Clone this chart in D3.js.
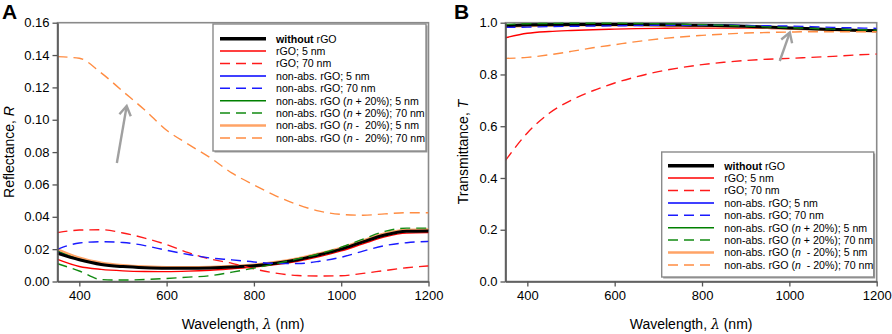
<!DOCTYPE html>
<html><head><meta charset="utf-8">
<script src="https://cdn.jsdelivr.net/npm/d3@7"></script>
<style>
body{margin:0;background:#fff;}
svg{font-family:"Liberation Sans",Arial,sans-serif;}
</style></head>
<body><svg id="c" width="892" height="334"></svg>
<script>
// ---------- DATA ----------
const wavelengths = [350,400,450,500,550,600,650,700,750,800,850,900,950,1000,1050,1100,1150,1200];
const xTicks = [400,600,800,1000,1200];
const yTicksA = [0,0.02,0.04,0.06,0.08,0.10,0.12,0.14,0.16];
const yTicksB = [0,0.2,0.4,0.6,0.8,1.0];

const seriesNames = ["without rGO","rGO; 5 nm","rGO; 70 nm","non-abs. rGO; 5 nm","non-abs. rGO; 70 nm",
  "non-abs. rGO (n + 20%); 5 nm","non-abs. rGO (n + 20%); 70 nm","non-abs. rGO (n - 20%); 5 nm","non-abs. rGO (n - 20%); 70 nm"];

// Panel A: reflectance
const R_without   = [0.0174,0.0134,0.0105,0.0092,0.0085,0.0082,0.0082,0.0084,0.0089,0.0097,0.0113,0.0135,0.0165,0.0200,0.0245,0.0287,0.0310,0.0312];
const R_rGO5      = [0.0137,0.0093,0.0075,0.0066,0.0062,0.0061,0.0064,0.0070,0.0079,0.0089,0.0104,0.0125,0.0154,0.0189,0.0233,0.0276,0.0299,0.0302];
const R_rGO70     = [0.0302,0.0318,0.0320,0.0300,0.0268,0.0228,0.0178,0.0139,0.0112,0.0078,0.0052,0.0037,0.0034,0.0036,0.0050,0.0068,0.0085,0.0096];
const R_na5       = [0.0185,0.0140,0.0110,0.0095,0.0087,0.0084,0.0084,0.0086,0.0091,0.0099,0.0115,0.0137,0.0167,0.0202,0.0247,0.0290,0.0313,0.0315];
const R_na70      = [0.0199,0.0238,0.0246,0.0241,0.0222,0.0193,0.0167,0.0145,0.0134,0.0121,0.0112,0.0111,0.0125,0.0150,0.0188,0.0222,0.0240,0.0248];
const R_nap5      = [0.0190,0.0142,0.0112,0.0096,0.0088,0.0085,0.0085,0.0087,0.0092,0.0101,0.0117,0.0140,0.0170,0.0206,0.0252,0.0296,0.0318,0.0320];
const R_nap70     = [0.0110,0.0065,0.0012,0.0009,0.0012,0.0019,0.0027,0.0036,0.0058,0.0083,0.0110,0.0140,0.0172,0.0212,0.0262,0.0310,0.0330,0.0330];
const R_nam5      = [0.0200,0.0148,0.0117,0.0101,0.0093,0.0089,0.0089,0.0091,0.0096,0.0105,0.0121,0.0144,0.0174,0.0209,0.0255,0.0298,0.0320,0.0322];
const R_nam70     = [0.1390,0.1380,0.1290,0.1175,0.1060,0.0935,0.0848,0.0765,0.0670,0.0597,0.0530,0.0475,0.0435,0.0415,0.0410,0.0418,0.0425,0.0425];

// Panel B: transmittance
const T_without   = [0.989,0.991,0.992,0.993,0.993,0.993,0.993,0.992,0.991,0.990,0.988,0.986,0.983,0.980,0.977,0.974,0.971,0.969];
const T_rGO5      = [0.942,0.959,0.966,0.970,0.973,0.975,0.977,0.978,0.979,0.979,0.979,0.979,0.978,0.977,0.975,0.973,0.971,0.969];
const T_rGO70     = [0.468,0.574,0.650,0.700,0.737,0.767,0.791,0.811,0.826,0.838,0.847,0.854,0.859,0.862,0.866,0.870,0.875,0.879];
const T_na5       = [0.991,0.993,0.994,0.995,0.995,0.995,0.995,0.994,0.993,0.992,0.990,0.988,0.985,0.982,0.979,0.976,0.973,0.971];
const T_na70      = [0.982,0.983,0.985,0.986,0.987,0.988,0.989,0.990,0.990,0.990,0.990,0.989,0.988,0.987,0.985,0.982,0.980,0.978];
const T_nap5      = [0.992,0.994,0.995,0.996,0.996,0.996,0.995,0.994,0.993,0.991,0.989,0.987,0.984,0.981,0.978,0.975,0.972,0.970];
const T_nap70     = [0.993,0.996,0.997,0.998,0.998,0.998,0.997,0.996,0.994,0.992,0.990,0.987,0.984,0.981,0.978,0.975,0.973,0.971];
const T_nam5      = [0.984,0.987,0.989,0.990,0.990,0.990,0.990,0.989,0.988,0.987,0.985,0.983,0.980,0.977,0.974,0.971,0.968,0.966];
const T_nam70     = [0.862,0.866,0.876,0.889,0.903,0.915,0.927,0.937,0.945,0.951,0.956,0.960,0.962,0.964,0.965,0.965,0.965,0.965];

// arrows (data coordinates): [x0,y0,x1,y1]
const arrowA = [486,0.0733,508.5,0.1085];
const arrowB = [978,0.852,1001,0.962];

// ---------- STYLES ----------
const styles = [
  {c:"#000000",w:3.0,d:null},
  {c:"#ff0000",w:1.4,d:null},
  {c:"#ff1a1a",w:1.4,d:"10,6"},
  {c:"#0000ff",w:1.4,d:null},
  {c:"#1a1aff",w:1.4,d:"10,6"},
  {c:"#008000",w:1.4,d:null},
  {c:"#128a12",w:1.4,d:"10,6"},
  {c:"#ffa366",w:2.2,d:null},
  {c:"#ff8c42",w:1.4,d:"10,6"}
];
const drawOrder = [1,3,5,7,0,2,4,6,8];

const svg = d3.select("#c");
const font = "Liberation Sans, Arial, sans-serif";

function panel(opt){
  const x = d3.scaleLinear().domain([350,1200]).range(opt.xr);
  const y = d3.scaleLinear().domain(opt.yd).range([281.5,22.7]);
  const g = svg.append("g");
  const clipId = "clip"+opt.id;
  svg.append("clipPath").attr("id",clipId).append("rect")
    .attr("x",opt.xr[0]).attr("y",21).attr("width",opt.xr[1]-opt.xr[0]).attr("height",281.5-21);
  // frame
  g.append("rect").attr("x",opt.xr[0]).attr("y",22.7).attr("width",opt.xr[1]-opt.xr[0]).attr("height",281.5-22.7)
    .attr("fill","none").attr("stroke","#8a8a8a").attr("stroke-width",1.6);
  // lines
  const line = d3.line().x((d,i)=>x(wavelengths[i])).y(d=>y(d)).curve(d3.curveMonotoneX);
  const lg = g.append("g").attr("clip-path","url(#"+clipId+")");
  drawOrder.forEach(k=>{
    const s = styles[k];
    lg.append("path").attr("d",line(opt.series[k])).attr("fill","none")
      .attr("stroke",s.c).attr("stroke-width",s.w).attr("stroke-dasharray",s.d)
      .attr("stroke-linejoin","round");
  });
  // axes
  const xa = g.append("g").attr("transform","translate(0,281.5)")
    .call(d3.axisBottom(x).tickValues(xTicks).tickFormat(d3.format("d")).tickSize(5).tickSizeOuter(0).tickPadding(4));
  const ya = g.append("g").attr("transform","translate("+opt.xr[0]+",0)")
    .call(d3.axisLeft(y).tickValues(opt.yticks).tickFormat(d3.format(opt.fmt)).tickSize(5).tickSizeOuter(0).tickPadding(3));
  [xa,ya].forEach(a=>{
    a.select(".domain").attr("stroke","#555").attr("stroke-width",1.6);
    a.selectAll(".tick line").attr("stroke","#555").attr("stroke-width",1.3);
    a.selectAll("text").attr("font-family",font).attr("font-size",13).attr("fill","#000");
  });
  // axis titles
  const xt = g.append("text").attr("x",(opt.xr[0]+opt.xr[1])/2).attr("y",329).attr("text-anchor","middle")
    .attr("font-size",14).attr("font-family",font);
  xt.append("tspan").text("Wavelength, ");
  xt.append("tspan").attr("font-family","DejaVu Serif, serif").attr("font-style","italic").text("λ");
  xt.append("tspan").text(" (nm)");
  const yt = g.append("text").attr("transform","translate("+opt.ytx+",152) rotate(-90)").attr("text-anchor","middle")
    .attr("font-size",14).attr("font-family",font);
  yt.append("tspan").text(opt.ytitle);
  yt.append("tspan").attr("font-style","italic").text(opt.yvar);
  // panel letter
  g.append("text").attr("x",opt.lx).attr("y",19).attr("font-size",21).attr("font-weight","bold")
    .attr("font-family",font).text(opt.letter);
  // arrow
  const a = opt.arrow;
  const x0=x(a[0]),y0=y(a[1]),x1=x(a[2]),y1=y(a[3]);
  const ang=Math.atan2(y1-y0,x1-x0), L=11, ha=0.55;
  g.append("line").attr("x1",x0).attr("y1",y0).attr("x2",x1).attr("y2",y1)
    .attr("stroke","#a0a0a0").attr("stroke-width",2.4);
  g.append("polyline").attr("points",[
      [x1-L*Math.cos(ang-ha),y1-L*Math.sin(ang-ha)],[x1,y1],[x1-L*Math.cos(ang+ha),y1-L*Math.sin(ang+ha)]
    ].map(p=>p.join(",")).join(" "))
    .attr("fill","none").attr("stroke","#a0a0a0").attr("stroke-width",2.4).attr("stroke-linejoin","miter");
  // legend
  const L0 = opt.legend;
  const leg = g.append("g");
  leg.append("rect").attr("x",L0.x+1.5).attr("y",L0.y+1.5).attr("width",L0.w).attr("height",L0.h)
    .attr("fill","#9a9a9a");
  leg.append("rect").attr("x",L0.x).attr("y",L0.y).attr("width",L0.w).attr("height",L0.h)
    .attr("fill","#fff").attr("stroke","#8a8a8a").attr("stroke-width",1.4);
  seriesNames.forEach((name,i)=>{
    const yy = L0.y0 + i*12.4;
    const s = styles[i];
    leg.append("line").attr("x1",L0.lx0).attr("x2",L0.lx1).attr("y1",yy).attr("y2",yy)
      .attr("stroke",s.c).attr("stroke-width",i===0?3.6:(i===7?2.4:1.5)).attr("stroke-dasharray",s.d?"10,6":null);
    const t = leg.append("text").attr("x",L0.tx).attr("y",yy+3.8).attr("font-size",10.6)
      .attr("font-family",font).style("white-space","pre");
    if(i===0){
      t.append("tspan").attr("font-weight","bold").text("without");
      t.append("tspan").text(" rGO");
    } else {
      const m = name.match(/^(.*\()n( .*)$/);
      if(m){
        let rest = m[2];
        if(rest.startsWith(" -")) rest = opt.minusTxt + rest.slice(3);
        t.append("tspan").text(m[1]);
        t.append("tspan").attr("font-style","italic").text("n");
        t.append("tspan").text(rest);
      } else t.text(name);
    }
  });
}

panel({id:"A",xr:[57.5,428.5],yd:[0,0.16],yticks:yTicksA,fmt:".2f",ytitle:"Reflectance, ",yvar:"R",ytx:14,
  letter:"A",lx:2,arrow:arrowA,minusTxt:" -  ",
  series:[R_without,R_rGO5,R_rGO70,R_na5,R_na70,R_nap5,R_nap70,R_nam5,R_nam70],
  legend:{x:213,y:24,w:213,h:127,y0:38.7,lx0:220,lx1:266,tx:276}});
panel({id:"B",xr:[505.5,876.7],yd:[0,1],yticks:yTicksB,fmt:".1f",ytitle:"Transmittance, ",yvar:"T",ytx:468,
  letter:"B",lx:454,arrow:arrowB,minusTxt:"  - ",
  series:[T_without,T_rGO5,T_rGO70,T_na5,T_na70,T_nap5,T_nap70,T_nam5,T_nam70],
  legend:{x:661.7,y:152,w:212,h:125,y0:165.7,lx0:668,lx1:714,tx:724.3}});
</script></body></html>
